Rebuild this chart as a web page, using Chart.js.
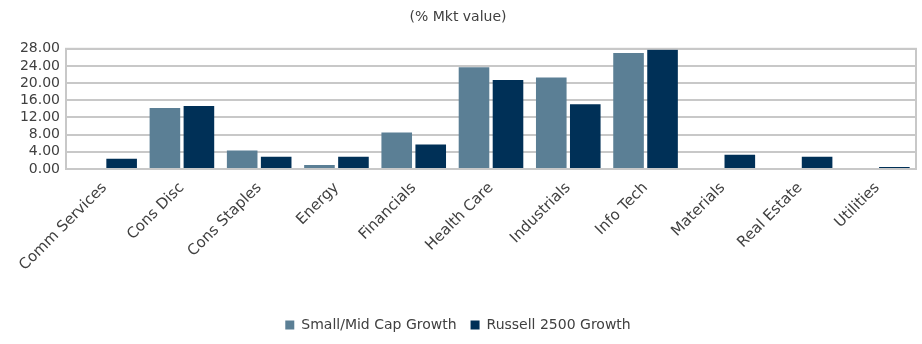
<!DOCTYPE html>
<html>
<head>
<meta charset="utf-8">
<script src="https://cdn.jsdelivr.net/npm/chart.js@4/dist/chart.umd.min.js"></script>
<style>
  html, body { margin: 0; padding: 0; background: #ffffff; }
  #wrap { width: 922px; height: 344px; position: relative; }
</style>
</head>
<body>
<div id="wrap"><canvas id="c" width="922" height="344"></canvas></div>
<script>
const categories = ["Comm Services", "Cons Disc", "Cons Staples", "Energy", "Financials", "Health Care", "Industrials", "Info Tech", "Materials", "Real Estate", "Utilities"];
const smallMidCapGrowth = [0, 14.2, 4.3, 0.95, 8.5, 23.7, 21.3, 27.0, 0, 0, 0];
const russell2500Growth = [2.4, 14.7, 2.85, 2.85, 5.7, 20.75, 15.1, 27.9, 3.3, 2.85, 0.47];
const yTicks = [0, 4, 8, 12, 16, 20, 24, 28];
const seriesNames = ["Small/Mid Cap Growth", "Russell 2500 Growth"];
const titleText = "(% Mkt value)";

const FONT = "'DejaVu Sans', sans-serif";
const TEXT = "#404040";

const frame = {
  id: 'frame',
  afterDatasetsDraw(chart) {
    const a = chart.chartArea, ctx = chart.ctx;
    ctx.save();
    ctx.strokeStyle = '#c8c8c8';
    ctx.lineWidth = 2;
    ctx.strokeRect(a.left, a.top, a.right - a.left, a.bottom - a.top);
    ctx.restore();
  }
};

new Chart(document.getElementById('c'), {
  type: 'bar',
  data: {
    labels: categories,
    datasets: [
      { label: seriesNames[0], data: smallMidCapGrowth, backgroundColor: '#5B7F95', categoryPercentage: 0.88, barPercentage: 0.9 },
      { label: seriesNames[1], data: russell2500Growth, backgroundColor: '#003057', categoryPercentage: 0.88, barPercentage: 0.9 }
    ]
  },
  options: {
    responsive: false,
    animation: false,
    layout: { padding: { left: 0, right: 6, top: 0, bottom: 2 } },
    plugins: {
      title: {
        display: true, text: titleText, color: TEXT,
        font: { family: FONT, size: 14, weight: 'normal' },
        padding: { top: 9, bottom: 23 }
      },
      legend: {
        position: 'bottom',
        labels: {
          color: TEXT, font: { family: FONT, size: 14 },
          boxWidth: 9, boxHeight: 9, padding: 14
        }
      },
      tooltip: { enabled: false }
    },
    scales: {
      x: {
        grid: { display: false },
        border: { color: '#c8c8c8', width: 2 },
        ticks: {
          color: TEXT, font: { family: FONT, size: 15 },
          maxRotation: 45, minRotation: 45, autoSkip: false, padding: 2
        },
        afterFit(s) { s.height = 135; }
      },
      y: {
        min: 0, max: 28,
        afterBuildTicks(s) { s.ticks = yTicks.map(v => ({ value: v })); },
        grid: { color: '#c8c8c8', lineWidth: 2, drawTicks: false },
        border: { color: '#c8c8c8', width: 2 },
        ticks: {
          color: TEXT, font: { family: FONT, size: 14 }, padding: 6, autoSkip: false,
          callback: v => Number(v).toFixed(2)
        },
        afterFit(s) { s.width = 66; }
      }
    }
  },
  plugins: [frame]
});
</script>
</body>
</html>
